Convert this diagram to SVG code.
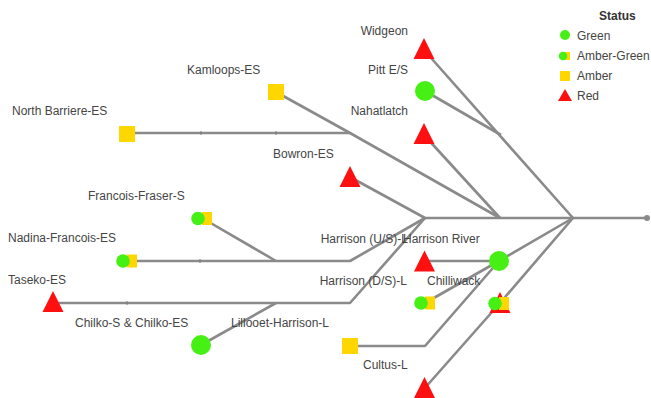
<svg xmlns="http://www.w3.org/2000/svg" xmlns:xlink="http://www.w3.org/1999/xlink" width="651" height="398" viewBox="0 0 651 398">
  <style>
    .edge { fill: none; stroke: #8a8a8a; stroke-width: 2.6; stroke-linejoin: round; }
    .tick { stroke: #7a7a7a; stroke-width: 1; }
    .lbl { font-family: "Liberation Sans", Arial, sans-serif; font-size: 12px; fill: #454545; }
    .end { text-anchor: end; }
    .title { font-weight: bold; fill: #333; }
    .g { fill: #46ef14; }
    .a { fill: #ffd700; }
    .r { fill: #ff1010; }
  </style>
  <defs>
    <path id="tri" class="r" d="M0,-12 L10.5,9 L-10.5,9 Z"/>
    <rect id="sq" class="a" x="-8" y="-8" width="16" height="16"/>
    <circle id="circ" class="g" r="10"/>
    <g id="ag">
      <rect class="a" x="0" y="-6.5" width="10" height="13"/>
      <circle class="g" cx="-4" cy="0" r="6.8"/>
    </g>
  </defs>

  <g id="connectors">
    <line class="edge" x1="425" y1="218" x2="646" y2="218"/>
    <circle cx="647" cy="218" r="3" fill="#8a8a8a"/>
    <line class="edge" x1="424" y1="50" x2="573" y2="218"/>
    <line class="edge" x1="425" y1="91" x2="501" y2="135"/>
    <line class="edge" x1="424" y1="135" x2="500" y2="218"/>
    <polyline class="edge" points="276,92 350,133 500,218"/>
    <line class="edge" x1="127" y1="133" x2="350" y2="133"/>
    <line class="edge" x1="350" y1="177" x2="425" y2="218"/>
    <polyline class="edge" points="425,218 350,261 127,261"/>
    <line class="edge" x1="202" y1="218" x2="276" y2="261"/>
    <polyline class="edge" points="425,218 350,303 53,303"/>
    <line class="edge" x1="201" y1="345" x2="276" y2="303"/>
    <line class="edge" x1="573" y1="218" x2="499" y2="261"/>
    <line class="edge" x1="499" y1="261" x2="424" y2="261"/>
    <line class="edge" x1="499" y1="261" x2="425" y2="303"/>
    <polyline class="edge" points="499,261 425,346 350,346"/>
    <polyline class="edge" points="573,218 500,303 424,389"/>
    <line class="tick" x1="201" y1="131" x2="201" y2="135"/>
    <line class="tick" x1="276" y1="131" x2="276" y2="135"/>
    <line class="tick" x1="200" y1="259" x2="200" y2="263"/>
    <line class="tick" x1="127" y1="301" x2="127" y2="305"/>
  </g>

  <g id="n-widgeon"><use xlink:href="#tri" x="424" y="50"/><text class="lbl end" x="408" y="35">Widgeon</text></g>
  <g id="n-pitt"><use xlink:href="#circ" x="425" y="91"/><text class="lbl end" x="408" y="74">Pitt E/S</text></g>
  <g id="n-nahatlatch"><use xlink:href="#tri" x="424" y="135"/><text class="lbl end" x="408" y="115">Nahatlatch</text></g>
  <g id="n-kamloops"><use xlink:href="#sq" x="276" y="92"/><text class="lbl" x="187" y="74">Kamloops-ES</text></g>
  <g id="n-northbarriere"><use xlink:href="#sq" x="127" y="134"/><text class="lbl" x="12" y="115">North Barriere-ES</text></g>
  <g id="n-bowron"><use xlink:href="#tri" x="350" y="178"/><text class="lbl" x="273" y="158">Bowron-ES</text></g>
  <g id="n-francoisfraser"><use xlink:href="#ag" x="202" y="218.5"/><text class="lbl" x="88" y="200">Francois-Fraser-S</text></g>
  <g id="n-nadina"><use xlink:href="#ag" x="127" y="261"/><text class="lbl" x="8" y="242">Nadina-Francois-ES</text></g>
  <g id="n-taseko"><use xlink:href="#tri" x="53" y="303"/><text class="lbl" x="8" y="284">Taseko-ES</text></g>
  <g id="n-chilko"><text class="lbl" x="75" y="327">Chilko-S &amp; Chilko-ES</text></g>
  <g id="n-lillooet"><use xlink:href="#circ" x="201" y="345"/><text class="lbl" x="231" y="327">Lillooet-Harrison-L</text></g>
  <g id="n-harrisonus"><text class="lbl end" x="408" y="243">Harrison (U/S)-L</text></g>
  <g id="n-harrisonds"><text class="lbl end" x="407" y="285">Harrison (D/S)-L</text></g>
  <g id="n-harrisonriver"><use xlink:href="#tri" x="424.5" y="262.5"/><text class="lbl" x="403" y="243">Harrison River</text></g>
  <g id="n-chilliwack"><use xlink:href="#circ" x="499" y="261"/><text class="lbl" x="427" y="285">Chilliwack</text></g>
  <g id="n-chilliwack-ag"><use xlink:href="#ag" x="425" y="303"/></g>
  <g id="n-cultus"><use xlink:href="#sq" x="350" y="346"/><text class="lbl" x="363" y="369">Cultus-L</text></g>
  <g id="n-mid"><use xlink:href="#tri" x="500" y="304"/><use xlink:href="#ag" x="499" y="303.5"/></g>
  <g id="n-bottom"><use xlink:href="#tri" x="424.5" y="389"/></g>

  <g id="legend">
    <text class="lbl title" x="599" y="20">Status</text>
    <circle class="g" cx="565" cy="35" r="5"/>
    <text class="lbl" x="577" y="39.5">Green</text>
    <rect class="a" x="564" y="52" width="6" height="8"/>
    <circle class="g" cx="563" cy="56" r="4.3"/>
    <text class="lbl" x="577" y="60">Amber-Green</text>
    <rect class="a" x="560" y="71" width="10" height="10"/>
    <text class="lbl" x="577" y="80">Amber</text>
    <path class="r" d="M565,89 L572,101 L558,101 Z"/>
    <text class="lbl" x="577" y="100">Red</text>
  </g>
</svg>
